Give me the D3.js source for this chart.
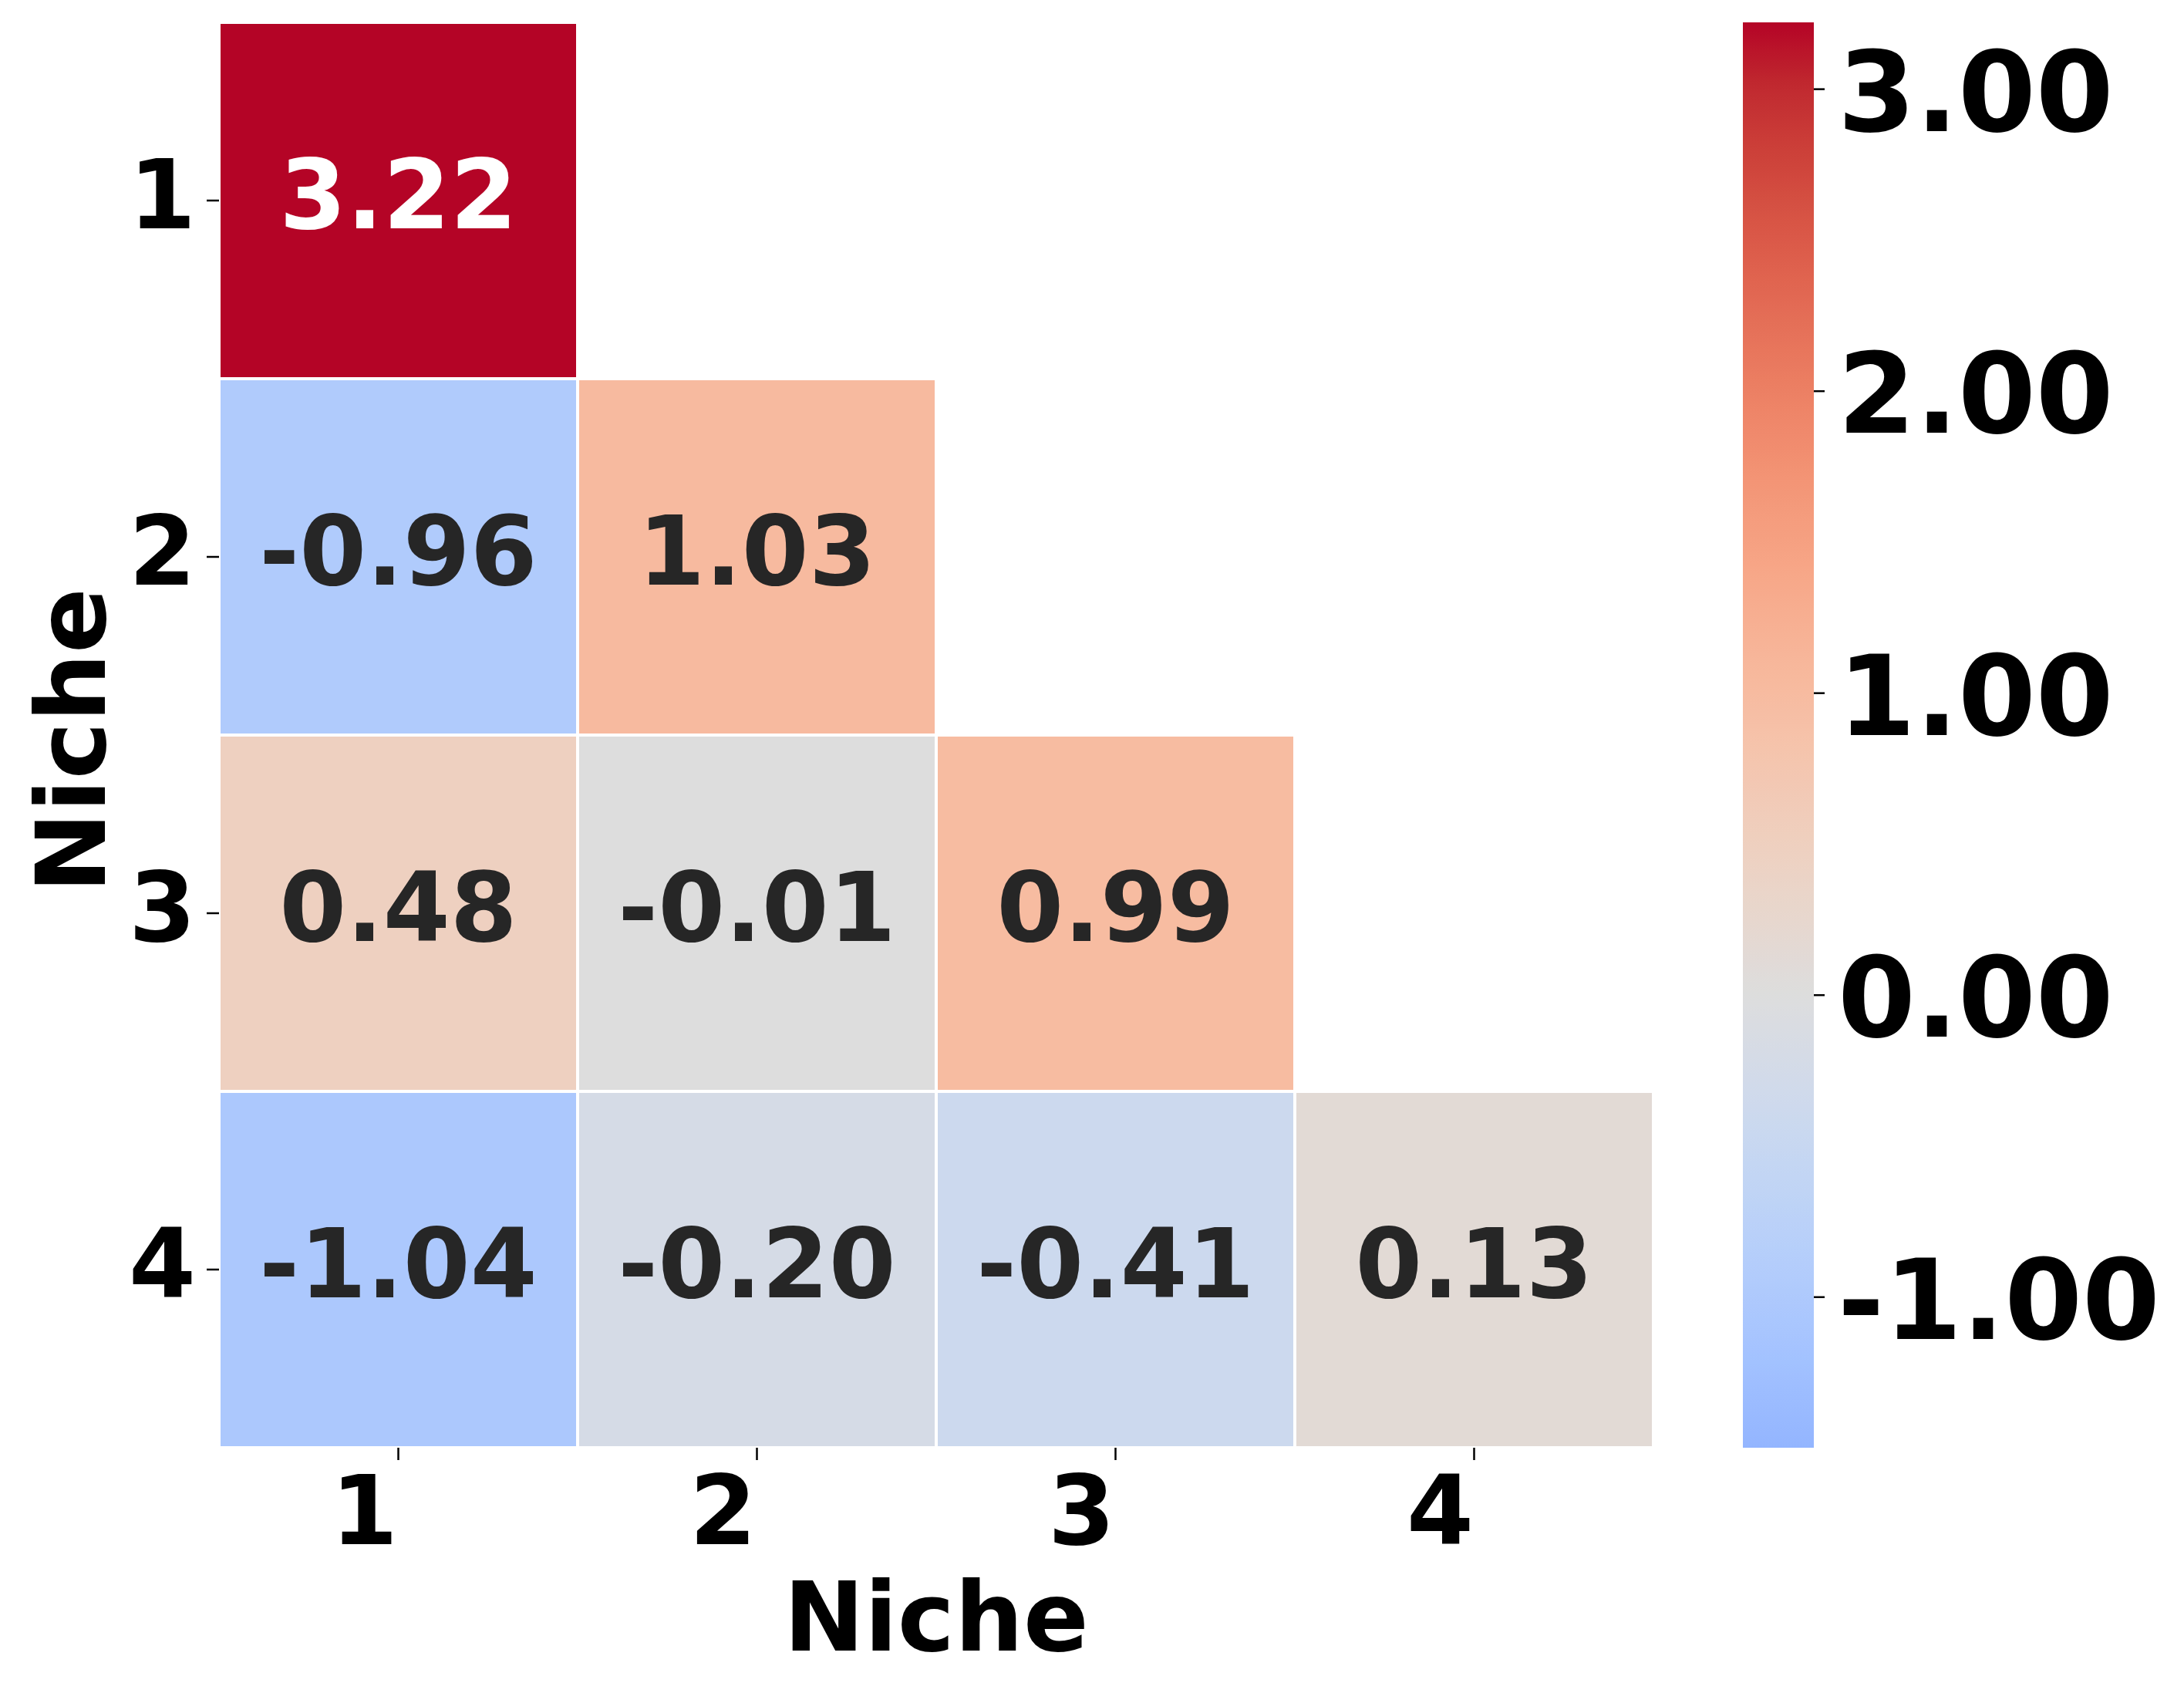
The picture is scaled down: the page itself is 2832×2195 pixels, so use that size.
<html>
<head>
<script src="https://d3js.org/d3.v7.min.js"></script>
<style>
  body { margin: 0; background: white; }
  text { font-family: "DejaVu Sans", sans-serif; font-weight: bold; }
</style>
</head>
<body>
<script>
// niche labels and lower triangle of values (row by row)
var niches = ["1", "2", "3", "4"];
var row1 = [3.22];
var row2 = [-0.96, 1.03];
var row3 = [0.48, -0.01, 0.99];
var row4 = [-1.04, -0.20, -0.41, 0.13];
var cbarTicks = [-1, 0, 1, 2, 3];
var cbarMin = -1.5;
var cbarMax = 3.22;

// coolwarm colour stops (matplotlib)
var coolwarm = ["#3b4cc0", "#445acc", "#4d68d7", "#5775e1", "#6282ea", "#6c8ef1", "#779af7", "#82a5fb",
                "#8db0fe", "#98b9ff", "#a3c2ff", "#aec9fd", "#b8d0f9", "#c2d5f4", "#ccd9ee", "#d5dbe6",
                "#dddddd", "#e5d8d1", "#ecd3c5", "#f1ccb9", "#f5c4ad", "#f7bba0", "#f7b194", "#f7a687",
                "#f49a7b", "#f18d6f", "#ec7f63", "#e57058", "#de604d", "#d55042", "#cb3e38", "#c0282f",
                "#b40426"];

var rows = [row1, row2, row3, row4];
var cells = [];
rows.forEach(function(r, i) {
    r.forEach(function(v, j) {
        cells.push({row: niches[i], col: niches[j], value: v});
    });
});

var width = 2832;
var height = 2195;

var xScale = d3.scaleBand().domain(niches).range([284, 2144]);
var yScale = d3.scaleBand().domain(niches).range([29, 1877]);

// seaborn center=0 : colormap spans +-max
var span = Math.max(Math.abs(cbarMin), cbarMax);
var colorScale = d3.scaleLinear()
    .domain(coolwarm.map(function(c, i) { return -span + 2 * span * i / (coolwarm.length - 1); }))
    .range(coolwarm)
    .interpolate(d3.interpolateRgb)
    .clamp(true);

var cbarScale = d3.scaleLinear()
    .domain([cbarMin, cbarMax])
    .range([1877, 29]);

var luminance = function(c) {
    var rgb = d3.rgb(c);
    var f = function(x) {
        x = x / 255;
        return x <= 0.03928 ? x / 12.92 : Math.pow((x + 0.055) / 1.055, 2.4);
    };
    return 0.2126 * f(rgb.r) + 0.7152 * f(rgb.g) + 0.0722 * f(rgb.b);
};

var svg = d3.select("body")
    .append("svg")
    .attr("width", width)
    .attr("height", height);

// cells
svg.append("g")
    .selectAll("rect")
    .data(cells)
    .enter()
    .append("rect")
    .attr("x", function(d) { return xScale(d.col); })
    .attr("y", function(d) { return yScale(d.row); })
    .attr("width", xScale.bandwidth())
    .attr("height", yScale.bandwidth())
    .attr("fill", function(d) { return colorScale(d.value); })
    .attr("stroke", "white")
    .attr("stroke-width", 4);

// annotations
svg.append("g")
    .selectAll("text")
    .data(cells)
    .enter()
    .append("text")
    .attr("x", function(d) { return xScale(d.col) + xScale.bandwidth() / 2; })
    .attr("y", function(d) { return yScale(d.row) + yScale.bandwidth() / 2 + 36; })
    .attr("text-anchor", "middle")
    .attr("font-size", 125)
    .attr("fill", function(d) { return luminance(colorScale(d.value)) < 0.408 ? "white" : "#262626"; })
    .text(function(d) { return d.value.toFixed(2); });

// axes
var yAxis = svg.append("g")
    .attr("transform", "translate(284,0)")
    .call(d3.axisLeft(yScale).tickSize(16).tickPadding(14));
yAxis.select(".domain").remove();
yAxis.selectAll("line").attr("stroke-width", 2.5);
yAxis.selectAll("text")
    .attr("font-size", 125)
    .attr("fill", "black")
    .attr("dy", 36);

var xAxis = svg.append("g")
    .attr("transform", "translate(0,1877)")
    .call(d3.axisBottom(xScale).tickSize(16));
xAxis.select(".domain").remove();
xAxis.selectAll("line").attr("stroke-width", 2.5);
xAxis.selectAll("text")
    .attr("font-size", 125)
    .attr("fill", "black")
    .attr("x", -44)
    .attr("y", 125)
    .attr("dy", 0);

// axis titles
svg.append("text")
    .text("Niche")
    .attr("x", 1214)
    .attr("y", 2140)
    .attr("text-anchor", "middle")
    .attr("font-size", 125);

svg.append("text")
    .text("Niche")
    .attr("transform", "translate(136,960) rotate(-90)")
    .attr("text-anchor", "middle")
    .attr("font-size", 125);

// colorbar
var grad = svg.append("defs")
    .append("linearGradient")
    .attr("id", "cbar")
    .attr("x1", 0).attr("y1", 1)
    .attr("x2", 0).attr("y2", 0);
d3.range(0, 101).forEach(function(i) {
    var v = cbarMin + (cbarMax - cbarMin) * i / 100;
    grad.append("stop")
        .attr("offset", i + "%")
        .attr("stop-color", colorScale(v));
});

svg.append("rect")
    .attr("x", 2260)
    .attr("y", cbarScale(cbarMax))
    .attr("width", 92)
    .attr("height", cbarScale(cbarMin) - cbarScale(cbarMax))
    .attr("fill", "url(#cbar)");

var cAxis = svg.append("g")
    .attr("transform", "translate(2352,0)")
    .call(d3.axisRight(cbarScale)
        .tickValues(cbarTicks)
        .tickSize(14)
        .tickPadding(17)
        .tickFormat(function(d) { return d.toFixed(2); }));
cAxis.select(".domain").remove();
cAxis.selectAll("line").attr("stroke-width", 2.5);
cAxis.selectAll("text")
    .attr("font-size", 145)
    .attr("fill", "black")
    .attr("dy", 54);
</script>
</body>
</html>
